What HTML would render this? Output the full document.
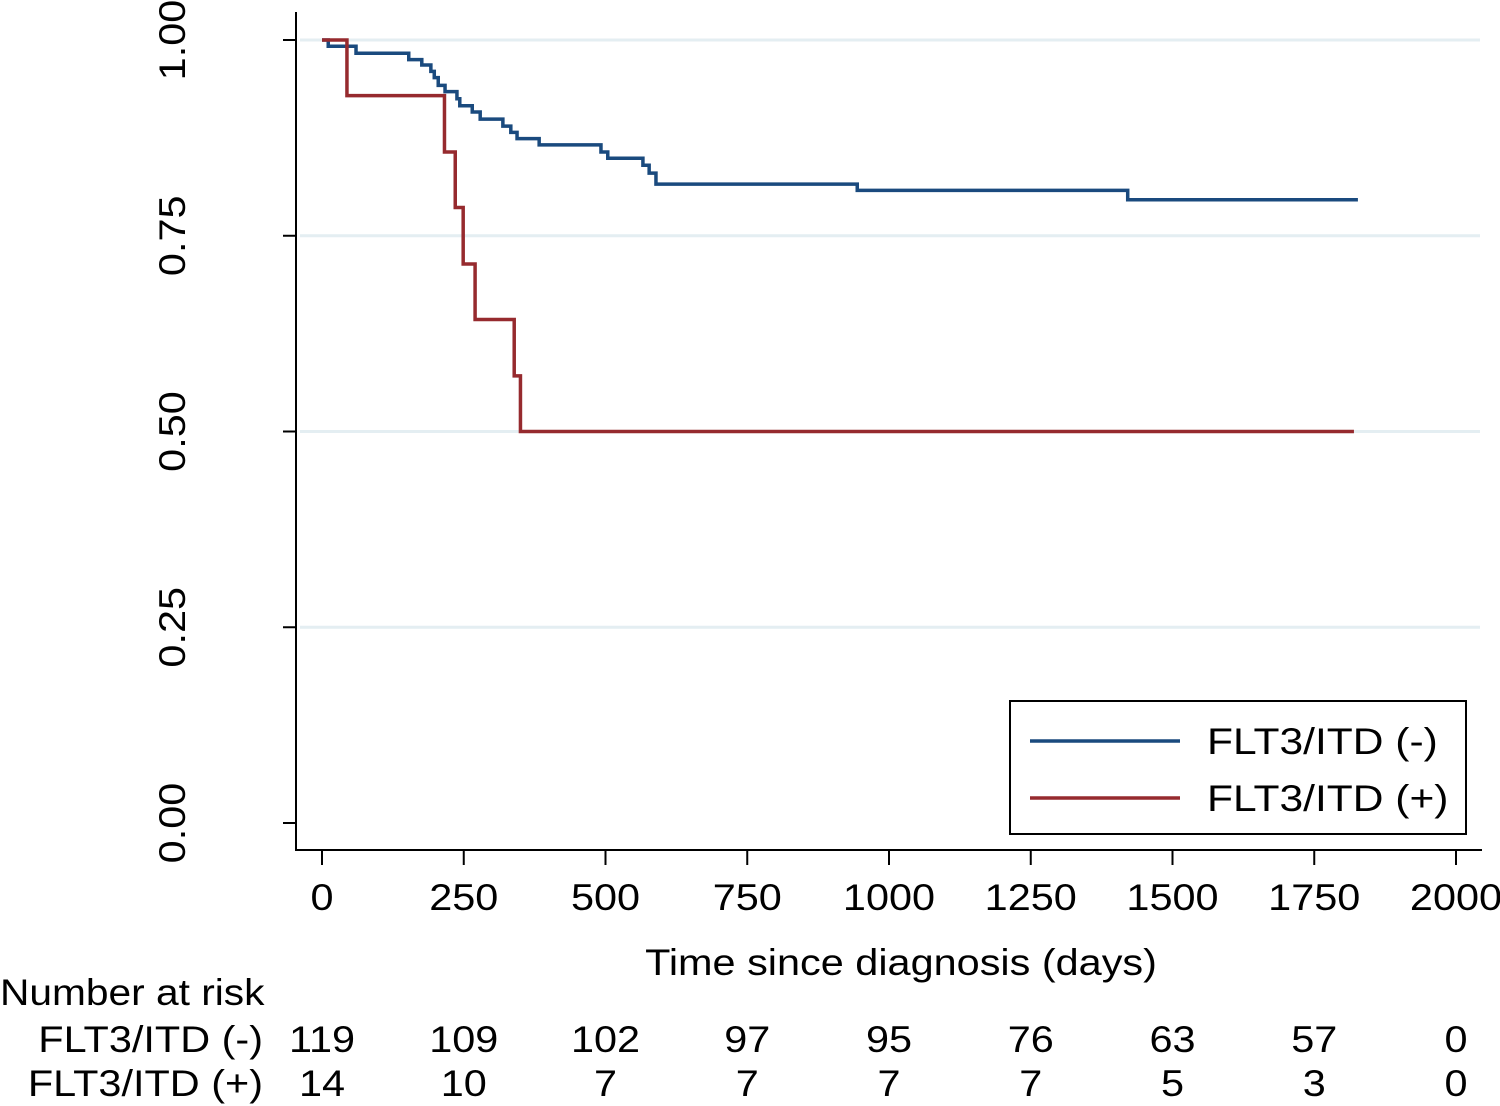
<!DOCTYPE html>
<html><head><meta charset="utf-8"><style>
html,body{margin:0;padding:0;background:#fff;}
svg{display:block;font-family:"Liberation Sans",Arial,sans-serif;}
</style></head><body>
<svg id="chart" width="1500" height="1106" viewBox="0 0 1500 1106" xmlns="http://www.w3.org/2000/svg">
<g id="grid"></g>
<g id="axes"></g>
<g id="series"></g>
<g id="legend">
  <rect x="1010" y="701" width="456" height="133" fill="#fff" stroke="#000" stroke-width="2"/>
  <line x1="1030" y1="741" x2="1180" y2="741" stroke="#1a4a7e" stroke-width="3.5"/>
  <text transform="translate(1207,754) scale(1.15,1)" font-size="37">FLT3/ITD (-)</text>
  <line x1="1030" y1="798" x2="1180" y2="798" stroke="#962a2e" stroke-width="3.5"/>
  <text transform="translate(1207,811) scale(1.15,1)" font-size="37">FLT3/ITD (+)</text>
</g>
<text transform="translate(901,975) scale(1.12,1)" font-size="37" text-anchor="middle">Time since diagnosis (days)</text>
<text transform="translate(0,1005) scale(1.1,1)" font-size="37">Number at risk</text>
<text transform="translate(263,1052) scale(1.12,1)" font-size="37" text-anchor="end">FLT3/ITD (-)</text>
<text transform="translate(263,1096) scale(1.12,1)" font-size="37" text-anchor="end">FLT3/ITD (+)</text>
<g id="risk"></g>
</svg>
<script>
const xTicks = [0, 250, 500, 750, 1000, 1250, 1500, 1750, 2000];
const yTicks = [0, 0.25, 0.5, 0.75, 1.0];
const yTickLabels = ["0.00", "0.25", "0.50", "0.75", "1.00"];
const negTimes = [0, 11, 60, 153, 176, 192, 198, 205, 217, 238, 243, 265, 279, 319, 333, 344, 383, 492, 504, 566, 577, 589, 944, 1421, 1827];
const negSurv = [1.0, 0.992, 0.983, 0.975, 0.968, 0.96, 0.952, 0.942, 0.934, 0.925, 0.916, 0.908, 0.899, 0.89, 0.882, 0.874, 0.866, 0.857, 0.849, 0.84, 0.83, 0.816, 0.808, 0.796, 0.796];
const posTimes = [0, 44, 216, 235, 249, 270, 339, 350, 1820];
const posSurv = [1.0, 0.929, 0.857, 0.786, 0.714, 0.643, 0.571, 0.5, 0.5];
const riskNeg = [119, 109, 102, 97, 95, 76, 63, 57, 0];
const riskPos = [14, 10, 7, 7, 7, 7, 5, 3, 0];

const NS = "http://www.w3.org/2000/svg";
const X = d => 322 + d * 0.567;
const Y = s => 823 - s * 783;
function mk(tag, attrs, parent, txt) {
  const e = document.createElementNS(NS, tag);
  for (const k in attrs) e.setAttribute(k, attrs[k]);
  if (txt !== undefined) e.textContent = txt;
  parent.appendChild(e);
  return e;
}
const grid = document.getElementById('grid');
const axes = document.getElementById('axes');
const series = document.getElementById('series');
const risk = document.getElementById('risk');

yTicks.forEach((v, i) => {
  if (v > 0) {
    const g = mk('line', {x1: 300, x2: 1480, y1: Y(v), y2: Y(v), stroke: '#e4eef2', 'stroke-width': 3}, grid);
    
    
  }
  const t = mk('line', {x1: 283, x2: 297, y1: Y(v), y2: Y(v), stroke: '#000', 'stroke-width': 2}, axes);
  
  
  const l = mk('text', {x: 0, y: 0, 'font-size': 37, 'text-anchor': 'middle', transform: `translate(185,${Y(v)}) rotate(-90) scale(1.12,1)`}, axes, yTickLabels[i]);
  
  
});
const ya = mk('line', {x1: 296, x2: 296, y1: 12, y2: 851, stroke: '#000', 'stroke-width': 2}, axes);


const xa = mk('line', {x1: 295, x2: 1482, y1: 850, y2: 850, stroke: '#000', 'stroke-width': 2}, axes);



xTicks.forEach((v, i) => {
  const t = mk('line', {x1: X(v), x2: X(v), y1: 850, y2: 865, stroke: '#000', 'stroke-width': 2}, axes);
  
  
  const l = mk('text', {x: 0, y: 0, 'font-size': 37, 'text-anchor': 'middle', transform: `translate(${X(v)},910) scale(1.12,1)`}, axes, String(v));
  
  
  const a = mk('text', {x: 0, y: 0, 'font-size': 37, 'text-anchor': 'middle', transform: `translate(${X(v)},1052) scale(1.12,1)`}, risk, String(riskNeg[i]));
  
  
  const b = mk('text', {x: 0, y: 0, 'font-size': 37, 'text-anchor': 'middle', transform: `translate(${X(v)},1096) scale(1.12,1)`}, risk, String(riskPos[i]));
  
  
});

function stepPath(ts, ss) {
  let d = `M${X(ts[0])},${Y(ss[0])}`;
  for (let i = 1; i < ts.length; i++) {
    d += ` H${X(ts[i])} V${Y(ss[i])}`;
  }
  return d;
}
const pn = mk('path', {d: stepPath(negTimes, negSurv), fill: 'none', stroke: '#1a4a7e', 'stroke-width': 3.5}, series);


const pp = mk('path', {d: stepPath(posTimes, posSurv), fill: 'none', stroke: '#962a2e', 'stroke-width': 3.5}, series);


</script>
</body></html>
